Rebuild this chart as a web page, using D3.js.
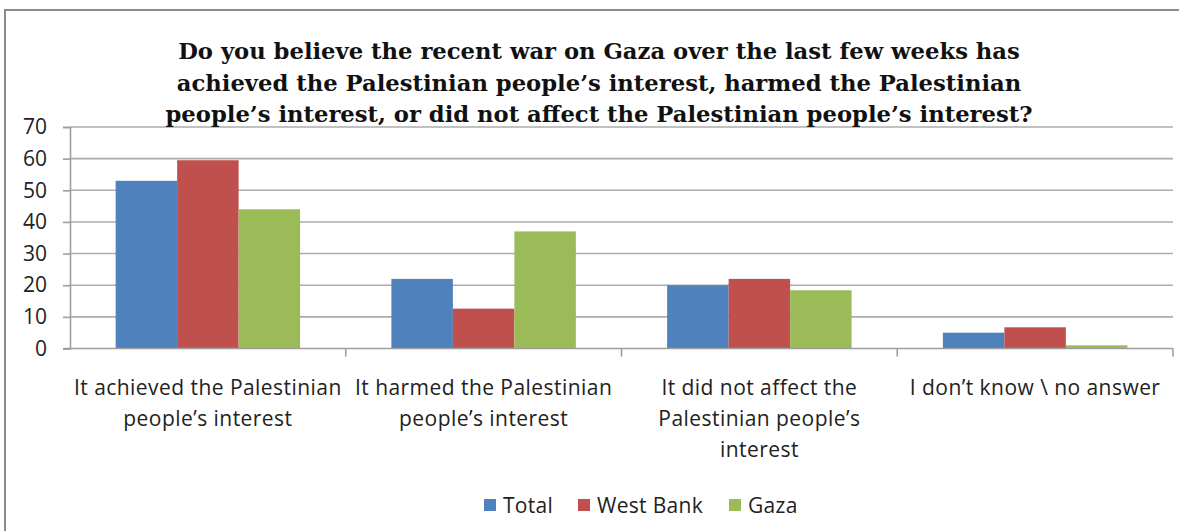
<!DOCTYPE html>
<html>
<head>
<meta charset="utf-8">
<script src="https://cdn.jsdelivr.net/npm/d3@7"></script>
<style>
html,body{margin:0;padding:0;background:#fff;}
svg{display:block;}
</style>
</head>
<body>
<svg id="chart" width="1179" height="531"></svg>
<script>
const categories = [
  ["It achieved the Palestinian", "people\u2019s interest"],
  ["It harmed the Palestinian", "people\u2019s interest"],
  ["It did not affect the", "Palestinian people\u2019s", "interest"],
  ["I don\u2019t know \\ no answer"]
];
const seriesNames = ["Total", "West Bank", "Gaza"];
const totalValues = [53, 22, 20, 5];
const westBankValues = [59.5, 12.6, 22, 6.7];
const gazaValues = [44, 37, 18.4, 1];
const yTicks = [0, 10, 20, 30, 40, 50, 60, 70];
const titleLines = [
  "Do you believe the recent war on Gaza over the last few weeks has",
  "achieved the Palestinian people\u2019s interest, harmed the Palestinian",
  "people\u2019s interest, or did not affect the Palestinian people\u2019s interest?"
];
const colors = ["#4F81BD", "#C0504D", "#9BBB59"];

(function () {
const seriesValues = [totalValues, westBankValues, gazaValues];
const svg = d3.select("#chart");

const pLeft = 70, pRight = 1173, pTop = 127, pBottom = 348.5;
const catIdx = d3.range(categories.length);
const x0 = d3.scaleBand().domain(catIdx).range([pLeft, pRight]).paddingInner(0.331).paddingOuter(0.1655);
const step = (pRight - pLeft) / categories.length;
const x1 = d3.scaleBand().domain(d3.range(seriesNames.length)).range([0, x0.bandwidth()]);
const y = d3.scaleLinear().domain([0, 70]).range([pBottom, pTop]);

const sansFont = "'Open Sans', sans-serif";

// outer frame (left and top edges visible)
svg.append("rect").attr("x", 5).attr("y", 10).attr("width", 1200).attr("height", 600)
  .attr("fill", "none").attr("stroke", "#8c8c8c").attr("stroke-width", 2);

// gridlines
svg.append("g").selectAll("line").data(yTicks.filter(d => d > 0)).join("line")
  .attr("x1", pLeft).attr("x2", pRight)
  .attr("y1", d => y(d)).attr("y2", d => y(d))
  .attr("stroke", "#acacac").attr("stroke-width", 1.6);

// y axis
const yAxis = d3.axisLeft(y).tickValues(yTicks).tickSize(7).tickPadding(16);
const gy = svg.append("g").attr("transform", `translate(${pLeft},0)`).call(yAxis);
gy.select(".domain").attr("stroke", "#9e9e9e").attr("stroke-width", 1.6);
gy.selectAll(".tick line").attr("stroke", "#9e9e9e").attr("stroke-width", 1.6);
gy.selectAll(".tick text").attr("font-family", sansFont).attr("font-size", 21)
  .attr("fill", "#222");

// bars
const g = svg.append("g");
catIdx.forEach(ci => {
  seriesValues.forEach((vals, si) => {
    g.append("rect")
      .attr("x", x0(ci) + x1(si))
      .attr("y", y(vals[ci]))
      .attr("width", x1.bandwidth())
      .attr("height", y(0) - y(vals[ci]))
      .attr("fill", colors[si]);
  });
});

// x axis
svg.append("line").attr("x1", pLeft - 7).attr("x2", pRight).attr("y1", y(0)).attr("y2", y(0))
  .attr("stroke", "#9e9e9e").attr("stroke-width", 1.6);
const sepData = d3.range(categories.length + 1).map(i => pLeft + i * step);
svg.append("g").selectAll("line").data(sepData.slice(1)).join("line")
  .attr("x1", d => d).attr("x2", d => d).attr("y1", y(0)).attr("y2", y(0) + 8)
  .attr("stroke", "#9e9e9e").attr("stroke-width", 1.6);

// category labels
const cl = svg.append("g").attr("font-family", sansFont).attr("font-size", 21)
  .attr("letter-spacing", 0.45).attr("fill", "#222").attr("text-anchor", "middle");
categories.forEach((lines, ci) => {
  const cx = x0(ci) + x0.bandwidth() / 2;
  const t = cl.append("text").attr("x", cx).attr("y", 395);
  lines.forEach((ln, li) => {
    t.append("tspan").attr("x", cx).attr("dy", li === 0 ? 0 : 31).text(ln);
  });
});

// title
const tt = svg.append("text").attr("font-family", "'DejaVu Serif', serif").attr("font-weight", "bold")
  .attr("font-size", 22.7).attr("fill", "#111").attr("text-anchor", "middle");
titleLines.forEach((ln, i) => {
  tt.append("tspan").attr("x", 599).attr("y", 59 + i * 31.5).text(ln);
});

// legend
const legendX = [484, 578, 729];
const lg = svg.append("g").attr("font-family", sansFont).attr("font-size", 21)
  .attr("letter-spacing", 0.3).attr("fill", "#222");
seriesNames.forEach((nm, i) => {
  lg.append("rect").attr("x", legendX[i]).attr("y", 499).attr("width", 12).attr("height", 12).attr("fill", colors[i]);
  lg.append("text").attr("x", legendX[i] + 19).attr("y", 513).text(nm);
});
})();
</script>
</body>
</html>
